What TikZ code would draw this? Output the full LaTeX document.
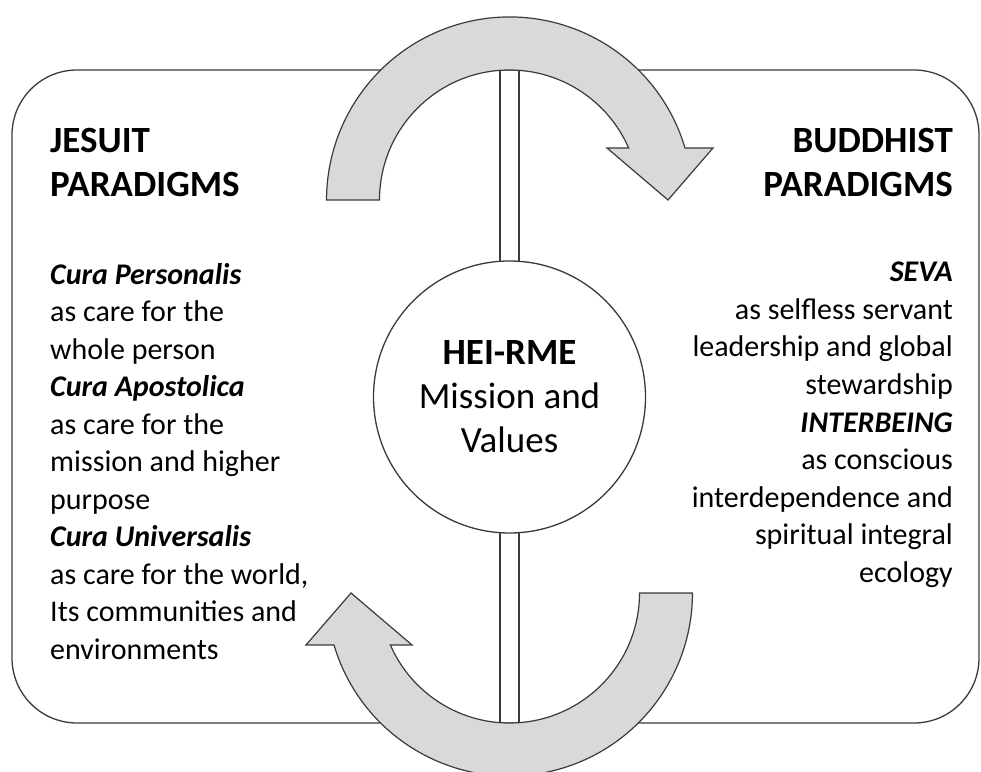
\documentclass[tikz,border=0pt]{standalone}
\usepackage{fontspec}
\setmainfont{Carlito}
\usetikzlibrary{calc}
\definecolor{arrowfill}{HTML}{D9D9D9}
\definecolor{edgegray}{HTML}{3A3A3A}
\begin{document}
\begin{tikzpicture}[x=1pt,y=1pt,
  frame/.style={draw=edgegray, line width=1.3pt},
  bigarrow/.style={draw=edgegray, line width=1.2pt, fill=arrowfill, line join=miter},
  heading/.style={font=\fontsize{37}{44}\selectfont\bfseries, inner sep=0pt},
  body/.style={font=\fontsize{30}{37.5}\selectfont, inner sep=0pt},
  hubtext/.style={font=\fontsize{37}{44}\selectfont, inner sep=0pt, align=center}]
\useasboundingbox (0,0) rectangle (981,771);
% outer panel
\node[frame, rounded corners=65pt, minimum width=967pt, minimum height=653pt, inner sep=0pt] (panel) at (495.5,374.5) {};
% divider lines
\coordinate (d1t) at (500,701);
\coordinate (d1b) at (500,48);
\coordinate (d2t) at (519,701);
\coordinate (d2b) at (519,48);
\draw[frame] (d1t) -- (d1b);
\draw[frame] (d2t) -- (d2b);
% top circular arrow
\draw[bigarrow] (685,623) arc[start angle=16.5, end angle=180, radius=183]
  -- (379.5,571) arc[start angle=180, end angle=23.6, radius=130]
  -- (607,623) -- (668,571) -- (713,623) -- cycle;
% bottom circular arrow
\draw[bigarrow] (334,126) arc[start angle=196.5, end angle=360, radius=183]
  -- (639.5,178) arc[start angle=0, end angle=-156.4, radius=130]
  -- (412,126) -- (351,178) -- (306,126) -- cycle;
% central circle
\node[draw=edgegray, line width=1.3pt, fill=white, circle, minimum size=272pt, inner sep=0pt] (hub) at (509.5,374) {};
\node[hubtext, anchor=base] (hublabel) at (509.5,318) {\textbf{HEI-RME}\\Mission and\\Values};
% left column
\node[heading, anchor=base west, align=left] (jesuit) at (50,574) {JESUIT\\PARADIGMS};
\node[body, anchor=base west, align=left] (jesuitbody) at (50,112) {\textbf{\textit{Cura Personalis}}\\as care for the\\whole person\\\textbf{\textit{Cura Apostolica}}\\as care for the\\mission and higher\\purpose\\\textbf{\textit{Cura Universalis}}\\as care for the world,\\Its communities and\\environments};
% right column
\node[heading, anchor=base east, align=right] (buddhist) at (953,574) {BUDDHIST\\PARADIGMS};
\node[body, anchor=base east, align=right] (buddhistbody) at (953,189) {\textbf{\textit{SEVA}}\\as selfless servant\\leadership and global\\stewardship\\\textbf{\textit{INTERBEING}}\\as conscious\\interdependence and\\spiritual integral\\ecology};
\end{tikzpicture}
\end{document}
